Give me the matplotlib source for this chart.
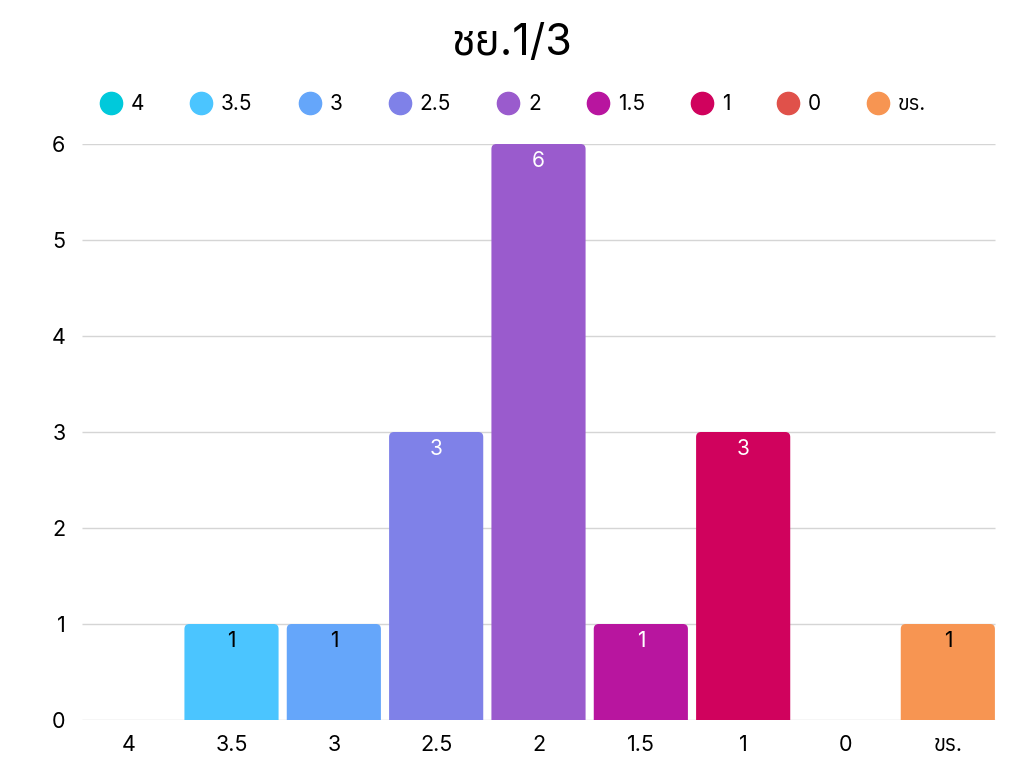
import numpy as np
import matplotlib
matplotlib.use("Agg")
import matplotlib.pyplot as plt
from matplotlib import font_manager
from matplotlib.ft2font import FT2Font
from matplotlib.patches import PathPatch
from matplotlib.path import Path
from matplotlib.lines import Line2D

# data
categories = ["4", "3.5", "3", "2.5", "2", "1.5", "1", "0", "ขร."]
counts = [0, 1, 1, 3, 6, 1, 3, 0, 1]
colors = ["#00C9DB", "#4BC5FF", "#65A6FA", "#7F81E8", "#9A5BCD",
          "#B8159F", "#D0025D", "#E0514A", "#F79552"]
label_colors = ["black", "black", "black", "white", "white",
                "white", "white", "white", "black"]
title = "ชย.1/3"

# find some font that has thai glyphs, to use as fallback
thai = []
for f in font_manager.fontManager.ttflist:
    try:
        if 0x0E0A in FT2Font(f.fname).get_charmap():
            thai.append(f.name)
    except Exception:
        pass
fams = ["Inter"] + sorted(set(thai)) + ["DejaVu Sans"]
plt.rcParams["font.family"] = fams

fig = plt.figure(figsize=(10.24, 7.68), dpi=100)
ax = fig.add_axes([78 / 1024, 48 / 768, 921 / 1024, 576 / 768])


def top_rounded(x0, x1, h, rx, ry):
    # bar outline with only the two top corners rounded
    verts = [(x0, 0), (x0, h - ry), (x0, h), (x0 + rx, h),
             (x1 - rx, h), (x1, h), (x1, h - ry), (x1, 0), (x0, 0)]
    codes = [Path.MOVETO, Path.LINETO, Path.CURVE3, Path.CURVE3,
             Path.LINETO, Path.CURVE3, Path.CURVE3, Path.LINETO,
             Path.CLOSEPOLY]
    return Path(verts, codes)


x = np.arange(len(categories))
w = 0.92
rx, ry = 5 / 102.3, 5 / 96.0
for i, (c, col) in enumerate(zip(counts, colors)):
    if c <= 0:
        continue
    ax.add_patch(PathPatch(top_rounded(x[i] - w / 2, x[i] + w / 2, c, rx, ry),
                           fc=col, ec="none", zorder=2))
    ax.text(x[i], c - 0.07, str(c), ha="center", va="top",
            fontsize=15, color=label_colors[i], zorder=3)

ax.set_xlim(-0.5, len(categories) - 0.5)
ax.set_ylim(0, 6)
ax.set_yticks(range(0, 7))
ax.set_xticks(x)
ax.set_xticklabels(categories)
ax.hlines(range(0, 7), -0.461, 8.461, color="#d5d5d5", lw=1, zorder=1)
ax.tick_params(length=0, labelsize=15.5, pad=11)
ax.tick_params(axis="y", pad=9)
for s in ax.spines.values():
    s.set_visible(False)

fig.text(0.5, 0.943, title, ha="center", va="center", fontsize=31)

handles = [Line2D([], [], marker="o", ls="none", ms=16, mfc=col, mec=col)
           for col in colors]
fig.legend(handles, categories, loc="center", bbox_to_anchor=(0.5, 0.864),
           ncol=len(categories), frameon=False, fontsize=15,
           handletextpad=0.35, columnspacing=2.15, handlelength=1.2)

fig.savefig("out.png", dpi=100)
